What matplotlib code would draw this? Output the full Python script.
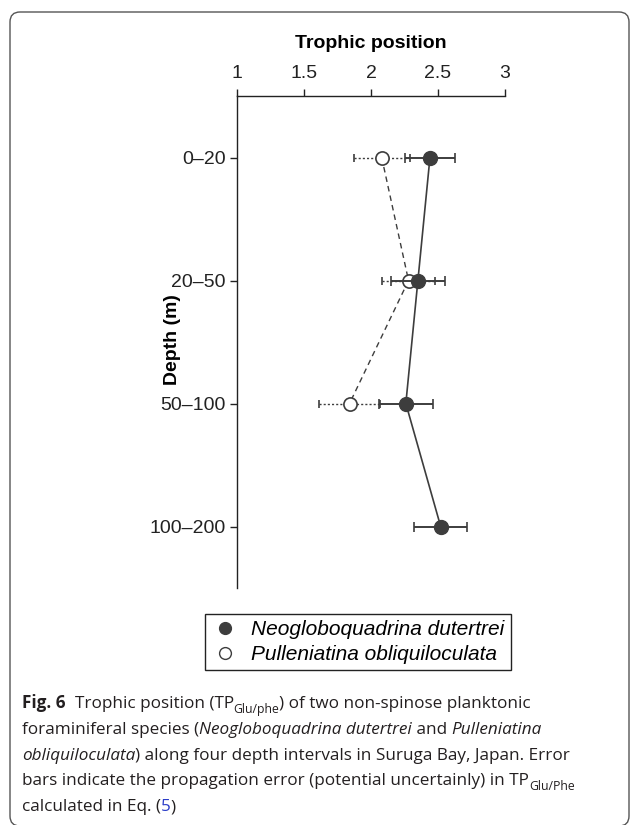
import numpy as np
import matplotlib
matplotlib.use("Agg")
import matplotlib.pyplot as plt
from matplotlib.lines import Line2D
from matplotlib.patches import FancyBboxPatch

# data
depth_labels = ['0–20', '20–50', '50–100', '100–200']
neo_tp = [2.44, 2.35, 2.26, 2.52]
neo_err = [0.19, 0.20, 0.20, 0.20]
pul_tp = [2.08, 2.28, 1.84]
pul_err = [0.21, 0.20, 0.23]
x_ticks = [1, 1.5, 2, 2.5, 3]
x_ticklabels = ['1', '1.5', '2', '2.5', '3']

W, H = 630, 825
fig = plt.figure(figsize=(W / 100, H / 100), dpi=100)
plt.rcParams['font.family'] = ['Liberation Sans', 'DejaVu Sans']

ax = fig.add_axes([237 / W, 1 - 588 / H, 268 / W, 492 / H])
dark = '#3d3d3d'
ypos = np.arange(1, len(depth_labels) + 1)

# Pulleniatina (open, dashed)
e = ax.errorbar(pul_tp, ypos[:len(pul_tp)], xerr=pul_err, fmt='o', ms=9.5,
                mfc='white', mec=dark, mew=1.2, ecolor=dark, elinewidth=1,
                capsize=3, capthick=1, zorder=3)
e[2][0].set_linestyle((0, (1.5, 1.5)))
ax.plot(pul_tp, ypos[:len(pul_tp)], color=dark, lw=1, ls=(0, (4, 3)), zorder=2)

# Neogloboquadrina (filled, solid)
ax.errorbar(neo_tp, ypos, xerr=neo_err, fmt='o', ms=10, mfc=dark, mec=dark,
            ecolor=dark, elinewidth=1.4, capsize=3.5, capthick=1.2, zorder=4)
ax.plot(neo_tp, ypos, color=dark, lw=1.2, zorder=2)

ax.set_xlim(1, 3)
ax.set_ylim(4.5, 0.5)
ax.xaxis.tick_top()
ax.set_xticks(x_ticks)
ax.set_xticklabels(x_ticklabels)
ax.set_yticks(ypos)
ax.set_yticklabels(depth_labels)
ax.tick_params(axis='x', direction='out', length=5, width=1, pad=5,
               labelsize=14, colors='#222222')
ax.tick_params(axis='y', direction='out', length=5, width=1, pad=3,
               labelsize=14, colors='#222222')
for s in ['right', 'bottom']:
    ax.spines[s].set_visible(False)
for s in ['top', 'left']:
    ax.spines[s].set_linewidth(1)
    ax.spines[s].set_color('#222222')
ax.set_xlabel('Trophic position', fontsize=14, fontweight='bold', labelpad=12)
ax.xaxis.set_label_position('top')
ax.set_ylabel('Depth (m)', fontsize=14, fontweight='bold')
ax.yaxis.set_label_coords((181 - 237) / 268, (588 - 340) / 492)

handles = [
    Line2D([], [], ls='none', marker='o', ms=8.5, mfc=dark, mec=dark),
    Line2D([], [], ls='none', marker='o', ms=8.5, mfc='white', mec=dark, mew=1),
]
leg = fig.legend(handles, ['Neogloboquadrina dutertrei', 'Pulleniatina obliquiloculata'],
                 loc='center', bbox_to_anchor=(358 / W, 1 - 642 / H),
                 prop={'style': 'italic', 'size': 15}, fancybox=False,
                 edgecolor='#222222', framealpha=1, handletextpad=0.6,
                 borderpad=0.3, labelspacing=0.3, handlelength=1.3)
leg.get_frame().set_linewidth(1)

# rounded outer border
fig.patches.append(FancyBboxPatch((10, -1), 619, H - 11, transform=None,
                                  boxstyle='round,pad=0,rounding_size=10',
                                  fill=False, ec='#555555', lw=1))

# caption
cap_font = ['Open Sans', 'DejaVu Sans']
cap_size = 12.3
cap_col = '#231f20'
lines = [
    [('Fig. 6', 'bold', 'normal', 0, cap_col), ('  Trophic position (TP', 'normal', 'normal', 0, cap_col),
     ('Glu/phe', 'normal', 'normal', -1, cap_col), (') of two non-spinose planktonic', 'normal', 'normal', 0, cap_col)],
    [('foraminiferal species (', 'normal', 'normal', 0, cap_col), ('Neogloboquadrina dutertrei', 'normal', 'italic', 0, cap_col),
     (' and ', 'normal', 'normal', 0, cap_col), ('Pulleniatina', 'normal', 'italic', 0, cap_col)],
    [('obliquiloculata', 'normal', 'italic', 0, cap_col), (') along four depth intervals in Suruga Bay, Japan. Error', 'normal', 'normal', 0, cap_col)],
    [('bars indicate the propagation error (potential uncertainly) in TP', 'normal', 'normal', 0, cap_col),
     ('Glu/Phe', 'normal', 'normal', -1, cap_col)],
    [('calculated in Eq. (', 'normal', 'normal', 0, cap_col), ('5', 'normal', 'normal', 0, '#2a3cc8'),
     (')', 'normal', 'normal', 0, cap_col)],
]
fig.canvas.draw()
renderer = fig.canvas.get_renderer()
y0 = 708
for i, runs in enumerate(lines):
    x = 22
    yb = y0 + i * 25.8
    for txt, wt, st, sub, col in runs:
        size = cap_size * 0.72 if sub else cap_size
        yy = yb + (5 if sub else 0)
        t = fig.text(x / W, 1 - yy / H, txt, fontsize=size, fontweight=wt,
                     fontstyle=st, family=cap_font, color=col, va='baseline', ha='left')
        bb = t.get_window_extent(renderer=renderer)
        x += bb.width

fig.savefig('out.png', dpi=100)
